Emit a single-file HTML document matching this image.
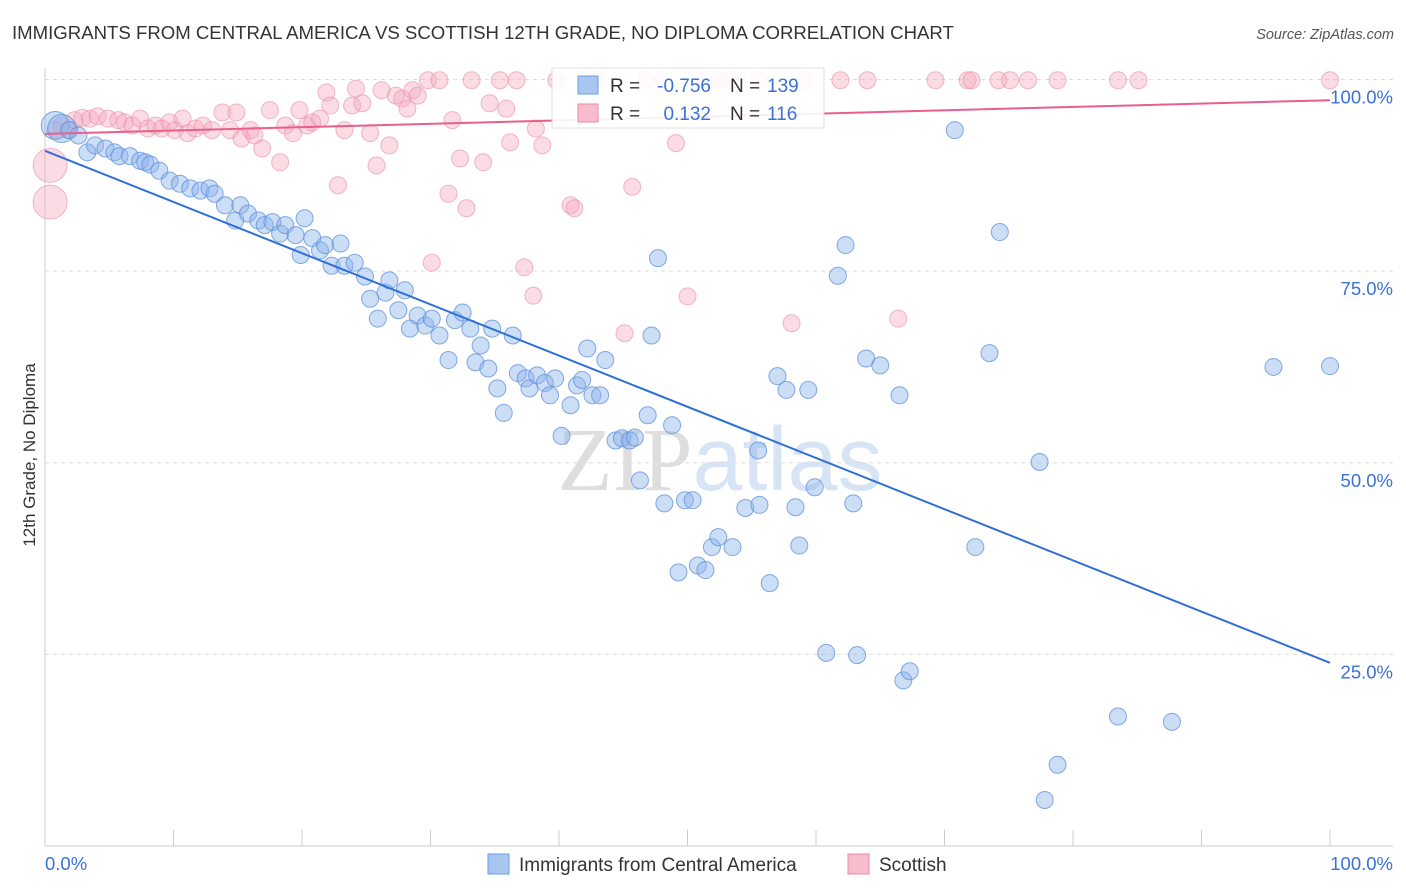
<!DOCTYPE html>
<html><head><meta charset="utf-8"><style>
body{margin:0;background:#fff;font-family:"Liberation Sans",sans-serif;}
svg{display:block}
</style></head><body>
<svg width="1406" height="892" viewBox="0 0 1406 892">
<text x="12" y="39" font-size="18.6" fill="#333">IMMIGRANTS FROM CENTRAL AMERICA VS SCOTTISH 12TH GRADE, NO DIPLOMA CORRELATION CHART</text>
<text x="1394" y="39" font-size="14.5" fill="#555" font-style="italic" text-anchor="end">Source: ZipAtlas.com</text>
<text x="720" y="490" font-size="90" fill="#e6e6e6" text-anchor="middle" font-family="Liberation Serif"><tspan fill="#dedede">ZIP</tspan><tspan fill="#d6e4f5" font-family="Liberation Sans">atlas</tspan></text>
<g id="grid"></g>
<g id="axes"></g>
<g id="pts"></g>
<g id="trends"></g>
<text x="35" y="455" font-size="17" fill="#333" text-anchor="middle" transform="rotate(-90 35 455)">12th Grade, No Diploma</text>
<g>
<rect x="552" y="68" width="272" height="60" fill="#fff" stroke="#ddd" opacity="0.9"/>
<rect x="578" y="76" width="20" height="18" fill="#a9c6f0" stroke="#6a9ee8"/>
<text x="610" y="92" font-size="19" fill="#333">R =</text>
<text x="711" y="92" font-size="19" fill="#3a72d8" text-anchor="end">-0.756</text>
<text x="730" y="92" font-size="19" fill="#333">N =</text>
<text x="767" y="92" font-size="19" fill="#3a72d8">139</text>
<rect x="578" y="104" width="20" height="18" fill="#f7bccd" stroke="#e98aa8"/>
<text x="610" y="120" font-size="19" fill="#333">R =</text>
<text x="711" y="120" font-size="19" fill="#3a72d8" text-anchor="end">0.132</text>
<text x="730" y="120" font-size="19" fill="#333">N =</text>
<text x="767" y="120" font-size="19" fill="#3a72d8">116</text>
</g>
<g>
<rect x="488" y="854" width="21" height="20" fill="#a9c6f0" stroke="#6a9ee8"/>
<text x="519" y="871" font-size="19" fill="#333">Immigrants from Central America</text>
<rect x="848" y="854" width="21" height="20" fill="#f7bccd" stroke="#e98aa8"/>
<text x="879" y="871" font-size="19" fill="#333">Scottish</text>
</g>
</svg>
<script>
const blueX=[0.8,1.3,1.9,2.6,3.3,3.9,4.7,5.4,5.8,6.6,7.4,7.8,8.2,8.9,9.7,10.5,11.3,12.1,12.8,13.2,14.0,14.8,15.2,15.8,16.6,17.1,17.7,18.3,18.7,19.5,19.9,20.2,20.8,21.4,21.8,22.3,23.0,23.3,24.1,24.9,25.3,25.9,26.5,26.8,27.5,28.0,28.4,29.0,29.6,30.1,30.7,31.4,31.9,32.5,33.1,33.5,33.9,34.5,34.8,35.2,35.7,36.4,36.8,37.4,37.7,38.3,38.9,39.3,39.7,40.2,40.9,41.4,41.8,42.2,42.6,43.2,43.6,44.4,44.9,45.5,45.9,46.3,46.9,47.2,47.7,48.2,48.8,49.3,49.8,50.4,50.8,51.4,51.9,52.4,53.5,54.5,55.5,55.6,56.4,57.0,57.7,58.4,58.7,59.4,59.9,60.8,61.7,62.3,62.9,63.2,63.9,65.0,66.5,66.8,67.3,70.8,72.4,73.5,74.3,77.4,77.8,78.8,83.5,87.7,95.6,100];
const blueY=[94.0,93.6,93.4,92.7,90.5,91.4,91.0,90.5,90.0,90.0,89.4,89.2,88.9,88.1,86.8,86.4,85.8,85.5,85.8,85.1,83.6,81.6,83.6,82.5,81.6,81.0,81.4,79.9,81.0,79.7,77.1,81.9,79.3,77.7,78.4,75.7,78.6,75.7,76.1,74.3,71.4,68.8,72.2,73.8,69.9,72.5,67.5,69.2,67.9,68.8,66.6,63.4,68.6,69.6,67.5,63.1,65.3,62.3,67.5,59.7,56.5,66.6,61.7,61.0,59.7,61.4,60.4,58.8,61.0,53.5,57.5,60.1,60.8,64.9,58.8,58.8,63.4,52.9,53.2,52.9,53.3,47.7,56.2,66.6,76.7,44.7,54.9,35.7,45.1,45.1,36.6,36.0,39.0,40.3,39.0,44.1,51.6,44.5,34.3,61.3,59.5,44.2,39.2,59.5,46.8,25.2,74.4,78.4,44.7,24.9,63.6,62.7,58.8,21.6,22.8,93.4,39.0,64.3,80.1,50.1,6.0,10.6,16.9,16.2,62.5,62.6];
const pinkX=[0.4,0.4,0.8,1.3,1.8,2.3,2.9,3.5,4.1,4.9,5.7,6.2,6.8,7.4,8.0,8.6,9.1,9.7,10.1,10.7,11.1,11.7,12.3,13.0,13.8,14.4,14.9,15.3,16.0,16.3,16.9,17.5,18.3,18.7,19.3,19.8,20.4,20.8,21.4,21.9,22.2,22.8,23.3,23.9,24.2,24.7,25.3,25.8,26.2,26.8,27.3,27.8,28.2,28.6,29.0,29.8,30.1,30.7,31.4,31.7,32.3,32.8,33.2,34.1,34.6,35.4,35.9,36.2,36.7,37.3,38.0,38.2,38.7,39.8,40.9,41.2,43.0,45.1,45.7,46.8,48.0,49.1,50.0,51.4,52.5,53.3,55.6,58.1,59.2,61.9,64.0,66.4,69.3,71.8,72.1,74.2,75.1,76.5,78.8,83.5,85.1,100];
const pinkY=[88.8,84.0,93.4,94.0,93.4,94.7,95.0,94.9,95.2,94.9,94.7,94.4,94.0,94.9,93.6,94.0,93.6,94.4,93.4,94.9,93.0,93.6,94.0,93.4,95.7,93.4,95.7,92.3,93.4,92.7,91.0,96.0,89.2,94.0,93.0,96.0,94.0,94.4,94.9,98.3,96.6,86.2,93.4,96.6,98.8,96.9,93.0,88.8,98.6,91.4,97.9,97.5,96.2,98.6,97.9,99.9,76.1,99.9,85.1,94.7,89.7,83.2,99.9,89.2,96.9,99.9,96.2,91.8,99.9,75.5,71.8,93.6,91.4,99.9,83.6,83.2,99.9,66.9,86.0,99.9,99.9,91.7,71.7,99.9,99.9,99.9,99.9,68.2,99.9,99.9,99.9,68.8,99.9,99.9,99.9,99.9,99.9,99.9,99.9,99.9,99.9,99.9];
const blueTrend=[90.7,23.9];
const pinkTrend=[92.9,97.3];
const yTicks=[100,75,50,25];
const yTickLabels=["100.0%","75.0%","50.0%","25.0%"];
const xTicks=[0,10,20,30,40,50,60,70,80,90,100];

const NS="http://www.w3.org/2000/svg";
const X0=45,X1=1330,Y0=846,Ytop=79.5;
const sx=v=>X0+(X1-X0)*v/100;
const sy=v=>Y0-(Y0-Ytop)*v/100;
function mk(tag,attrs,parent){const e=document.createElementNS(NS,tag);for(const k in attrs)e.setAttribute(k,attrs[k]);parent.appendChild(e);return e;}
const grid=document.getElementById('grid'),axes=document.getElementById('axes'),pts=document.getElementById('pts'),tr=document.getElementById('trends');
yTicks.forEach((t,i)=>{
  const l=mk('line',{x1:X0,x2:1393,y1:sy(t),y2:sy(t),stroke:'#ddd','stroke-dasharray':'4 4'},grid);
  
  
  const tx=mk('text',{x:1393,y:sy(t)+24,'font-size':18.5,fill:'#3a72d8','text-anchor':'end'},axes);
  tx.textContent=yTickLabels[i];
  
  
});
mk('line',{x1:X0,x2:X0,y1:68,y2:Y0,stroke:'#ccc'},axes);
mk('line',{x1:X0,x2:1393,y1:Y0,y2:Y0,stroke:'#ccc'},axes);
xTicks.forEach(t=>{
  const l=mk('line',{x1:sx(t),x2:sx(t),y1:Y0,y2:Y0-16,stroke:'#ccc'},axes);
  
  
});
const xl0=mk('text',{x:45,y:870,'font-size':18.5,fill:'#3a72d8'},axes);xl0.textContent='0.0%';


const xl1=mk('text',{x:1393,y:870,'font-size':18.5,fill:'#3a72d8','text-anchor':'end'},axes);xl1.textContent='100.0%';



pinkX.forEach((x,i)=>{
  const c=mk('circle',{cx:sx(x),cy:sy(pinkY[i]),r:i<2?17:8.5,fill:'#f4a7bf','fill-opacity':0.4,stroke:'#e98aa8','stroke-opacity':0.6},pts);
  
  
});
blueX.forEach((x,i)=>{
  const c=mk('circle',{cx:sx(x),cy:sy(blueY[i]),r:i<2?14:8.5,fill:'#8fb4ec','fill-opacity':0.45,stroke:'#5b8fdc','stroke-opacity':0.75},pts);
  
  
});
const bl=mk('line',{x1:sx(0),y1:sy(blueTrend[0]),x2:sx(100),y2:sy(blueTrend[1]),stroke:'#2f6fd6','stroke-width':2},tr);


const pl=mk('line',{x1:sx(0),y1:sy(pinkTrend[0]),x2:sx(100),y2:sy(pinkTrend[1]),stroke:'#e8608a','stroke-width':2},tr);


</script>
</body></html>
